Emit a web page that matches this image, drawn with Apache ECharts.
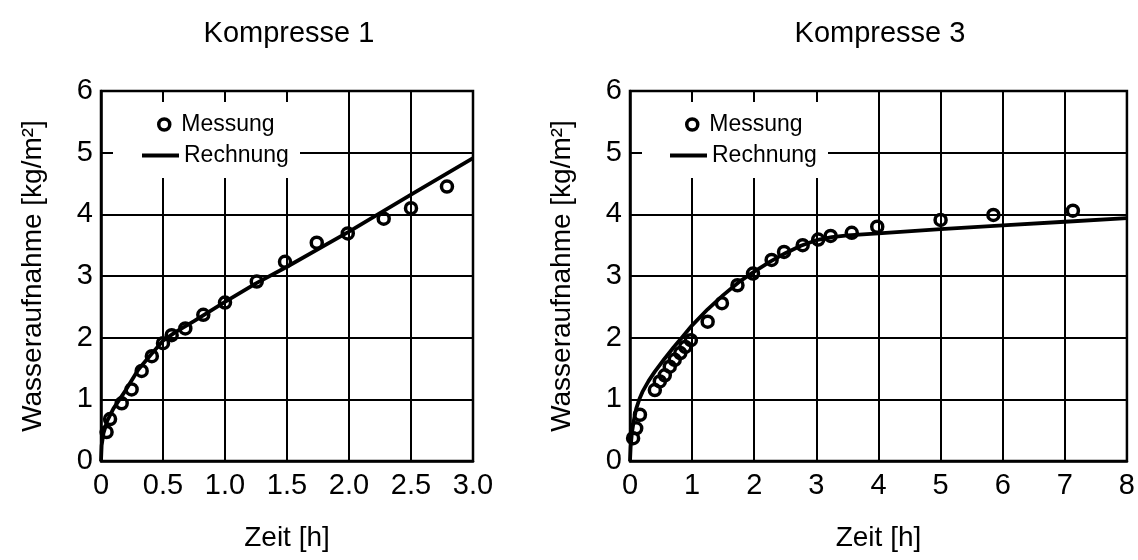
<!DOCTYPE html>
<html>
<head>
<meta charset="utf-8">
<script src="https://cdn.jsdelivr.net/npm/echarts@6/dist/echarts.min.js"></script>
<style>
  html, body { margin: 0; padding: 0; background: #fff; }
  #chart { width: 1138px; height: 560px; }
</style>
</head>
<body>
<div id="chart"></div>
<script>
// Kompresse 1 : Messung (Zeit in h, Wasseraufnahme in kg/m²)
const k1MessZeit = [0.045, 0.073, 0.167, 0.247, 0.328, 0.41, 0.50, 0.57, 0.68, 0.825, 1.0, 1.256, 1.484, 1.74, 1.99, 2.28, 2.50, 2.79];
const k1MessWert = [0.47, 0.68, 0.935, 1.16, 1.46, 1.70, 1.91, 2.04, 2.15, 2.37, 2.57, 2.91, 3.23, 3.54, 3.69, 3.93, 4.10, 4.45];
// Kompresse 1 : Rechnung
const k1RechZeit = [0, 0.005, 0.02, 0.05, 0.1, 0.15, 0.2, 0.3, 0.4, 0.5, 0.6, 0.75, 1.0, 1.25, 1.5, 2.0, 2.5, 3.0];
const k1RechWert = [0, 0.25, 0.45, 0.65, 0.85, 1.0, 1.15, 1.48, 1.72, 1.95, 2.09, 2.27, 2.58, 2.88, 3.15, 3.72, 4.32, 4.91];

// Kompresse 3 : Messung
const k3MessZeit = [0.05, 0.10, 0.16, 0.40, 0.48, 0.56, 0.64, 0.72, 0.81, 0.89, 0.98, 1.25, 1.48, 1.73, 1.98, 2.28, 2.48, 2.78, 3.03, 3.23, 3.57, 3.98, 5.00, 5.85, 7.13];
const k3MessWert = [0.37, 0.53, 0.75, 1.15, 1.29, 1.39, 1.53, 1.64, 1.75, 1.85, 1.96, 2.26, 2.56, 2.85, 3.04, 3.26, 3.39, 3.50, 3.59, 3.65, 3.70, 3.80, 3.91, 3.99, 4.06];
// Kompresse 3 : Rechnung
const k3RechZeit = [0, 0.01, 0.03, 0.06, 0.1, 0.15, 0.2, 0.3, 0.4, 0.55, 0.7, 0.85, 1.0, 1.25, 1.5, 1.75, 2.0, 2.25, 2.5, 2.75, 3.0, 3.25, 3.5, 4, 5, 6, 7, 8];
const k3RechWert = [0, 0.22, 0.45, 0.65, 0.85, 1.0, 1.12, 1.3, 1.45, 1.65, 1.84, 2.02, 2.2, 2.46, 2.69, 2.9, 3.07, 3.23, 3.37, 3.49, 3.58, 3.63, 3.66, 3.69, 3.76, 3.82, 3.88, 3.94];

const titel = ["Kompresse 1", "Kompresse 3"];
const yName = "Wasseraufnahme [kg/m²]";
const xName = "Zeit [h]";

const font = "'Liberation Sans', Arial, sans-serif";
const zip = (xs, ys) => xs.map((x, i) => [x, ys[i]]);

const chart = echarts.init(document.getElementById("chart"));

const grids = [
  { left: 101, top: 91, width: 372, height: 370 },
  { left: 630, top: 91, width: 497, height: 370 },
];

const tickLabel = (extra) => Object.assign({ color: "#000", fontSize: 29, fontFamily: font }, extra);

const achse = (extra) => Object.assign({
  type: "value",
  axisLine: { show: true, lineStyle: { color: "#000", width: 2.5 } },
  axisTick: { show: false },
  splitLine: { show: true, lineStyle: { color: "#000", width: 2 } },
  nameTextStyle: { color: "#000", fontSize: 28, fontFamily: font },
}, extra);

const titelStil = { fontSize: 29, fontWeight: "normal", color: "#000", fontFamily: font };
const legendText = { fontSize: 23, color: "#000", fontFamily: font };
const ringStil = { color: "rgba(0,0,0,0)", borderColor: "#000", borderWidth: 3.5, opacity: 1 };

const options = {
  animation: false,
  backgroundColor: "#fff",
  textStyle: { fontFamily: font },
  title: [
    { text: titel[0], left: 284, top: 14, textAlign: "center", textStyle: titelStil },
    { text: titel[1], left: 875, top: 14, textAlign: "center", textStyle: titelStil },
  ],
  grid: grids.map((g) => Object.assign({ show: true, borderColor: "#000", borderWidth: 2.5, backgroundColor: "transparent" }, g)),
  xAxis: [
    achse({ gridIndex: 0, min: 0, max: 3, interval: 0.5, name: xName, nameLocation: "middle", nameGap: 63,
      axisLabel: tickLabel({ margin: 10, formatter: (v) => (v === 0 ? "0" : v.toFixed(1)) }) }),
    achse({ gridIndex: 1, min: 0, max: 8, interval: 1, name: xName, nameLocation: "middle", nameGap: 63,
      axisLabel: tickLabel({ margin: 10 }) }),
  ],
  yAxis: [
    achse({ gridIndex: 0, min: 0, max: 6, interval: 1, name: yName, nameLocation: "middle", nameGap: 54,
      axisLabel: tickLabel({ margin: 8 }) }),
    achse({ gridIndex: 1, min: 0, max: 6, interval: 1, name: yName, nameLocation: "middle", nameGap: 54,
      axisLabel: tickLabel({ margin: 8 }) }),
  ],
  legend: [
    { data: [{ name: "Messung", icon: "circle", itemStyle: ringStil }], left: 157, top: 113, padding: 0,
      itemWidth: 24, itemHeight: 11, z: 10, textStyle: legendText },
    { data: [{ name: "Rechnung", icon: "rect", itemStyle: { color: "#000" } }], left: 142, top: 144, padding: 0,
      itemWidth: 37, itemHeight: 4, z: 10, textStyle: legendText },
    { data: [{ name: "Messung", icon: "circle", itemStyle: ringStil }], left: 685, top: 113, padding: 0,
      itemWidth: 24, itemHeight: 11, z: 10, textStyle: legendText },
    { data: [{ name: "Rechnung", icon: "rect", itemStyle: { color: "#000" } }], left: 670, top: 144, padding: 0,
      itemWidth: 37, itemHeight: 4, z: 10, textStyle: legendText },
  ],
  // weißer Hintergrund hinter der Legende
  graphic: [
    { type: "rect", z: 5, shape: { x: 113, y: 102, width: 187, height: 76 }, style: { fill: "#fff" } },
    { type: "rect", z: 5, shape: { x: 642, y: 102, width: 186, height: 76 }, style: { fill: "#fff" } },
  ],
  series: [
    { name: "Rechnung", type: "line", xAxisIndex: 0, yAxisIndex: 0, data: zip(k1RechZeit, k1RechWert),
      symbol: "none", lineStyle: { color: "#000", width: 3.8 }, itemStyle: { color: "#000" } },
    { name: "Messung", type: "scatter", xAxisIndex: 0, yAxisIndex: 0, data: zip(k1MessZeit, k1MessWert),
      symbol: "circle", symbolSize: 11, itemStyle: ringStil },
    { name: "Rechnung", type: "line", xAxisIndex: 1, yAxisIndex: 1, data: zip(k3RechZeit, k3RechWert),
      symbol: "none", lineStyle: { color: "#000", width: 3.8 }, itemStyle: { color: "#000" } },
    { name: "Messung", type: "scatter", xAxisIndex: 1, yAxisIndex: 1, data: zip(k3MessZeit, k3MessWert),
      symbol: "circle", symbolSize: 11, itemStyle: ringStil },
  ],
};

chart.setOption(options);
</script>
</body>
</html>
